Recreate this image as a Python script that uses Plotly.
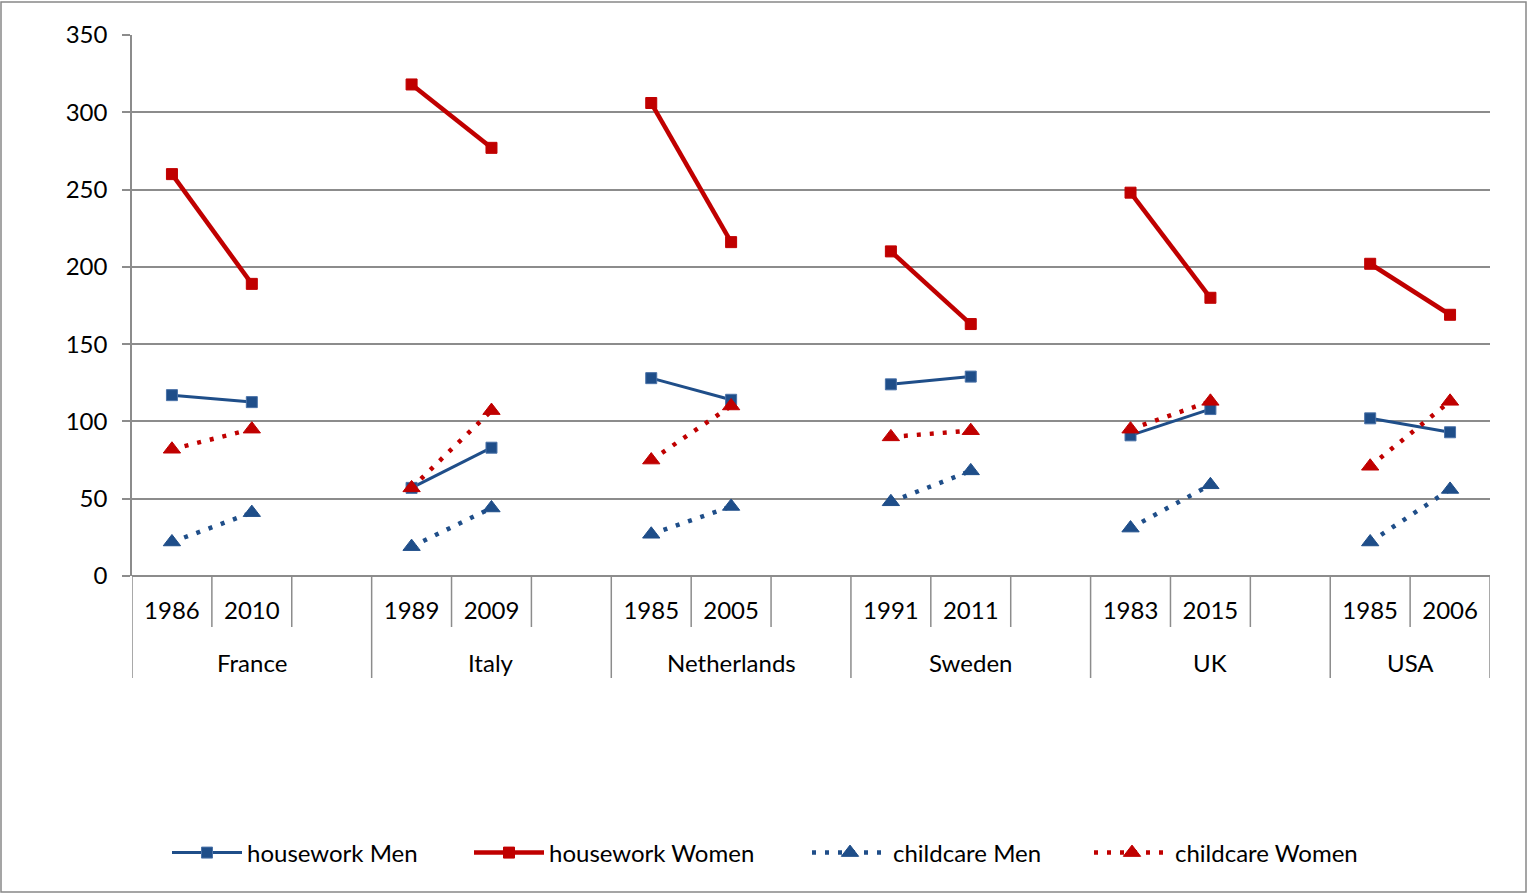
import plotly.graph_objects as go

countries = ["France", "Italy", "Netherlands", "Sweden", "UK", "USA"]
years = [["1986", "2010"], ["1989", "2009"], ["1985", "2005"],
         ["1991", "2011"], ["1983", "2015"], ["1985", "2006"]]

housework_men = [[117, 112.5], [57, 83], [128, 114], [124, 129], [91, 108], [102, 93]]
housework_women = [[260, 189], [318, 277], [306, 216], [210, 163], [248, 180], [202, 169]]
childcare_men = [[22, 41], [19, 44], [27, 45], [48, 68], [31, 59], [22, 56]]
childcare_women = [[82, 95], [57, 107], [75, 110], [90, 94], [95, 113], [71, 113]]

BLUE = "#1F4E89"
RED = "#C00000"
GRID = "#8C8C8C"
FONT = "Lato"
FS = 24

n_slots = 3 * len(countries) - 1


def pos(ci, yi):
    return 3 * ci + yi


def series(vals):
    xs, ys = [], []
    for ci, pair in enumerate(vals):
        for yi, v in enumerate(pair):
            xs.append(pos(ci, yi))
            ys.append(v)
        xs.append(None)
        ys.append(None)
    return xs, ys


fig = go.Figure()
specs = [
    ("housework Men", housework_men, BLUE, "solid", 3, "square", 11, "#4A72A8", "legend", 175, 70),
    ("housework Women", housework_women, RED, "solid", 4.5, "square", 11, RED, "legend2", 477, 70),
    ("childcare Men", childcare_men, BLUE, "4px,9px", 4.5, "triangle-up", 15, BLUE, "legend3", 815, 76),
    ("childcare Women", childcare_women, RED, "4px,9px", 4.5, "triangle-up", 15, RED, "legend4", 1097, 76),
]
legend_layouts = {}
for name, vals, col, dash, lw, sym, ms, mlc, lg, lx, iw in specs:
    xs, ys = series(vals)
    fig.add_trace(go.Scatter(
        x=xs, y=ys, name=name, mode="lines+markers", connectgaps=False,
        line=dict(color=col, width=lw, dash=dash),
        marker=dict(symbol=sym, size=ms, color=col, line=dict(color=mlc, width=1)),
        legend=lg,
    ))
    legend_layouts[lg] = dict(
        orientation="h", xref="container", yref="container",
        x=(lx - 8) / 1528, xanchor="left", y=1 - 853 / 894, yanchor="middle",
        font=dict(family=FONT, size=FS, color="#000000"), itemwidth=iw,
        bgcolor="rgba(0,0,0,0)",
    )

tickvals, ticktext = [], []
for ci, ys_ in enumerate(years):
    for yi, yr in enumerate(ys_):
        tickvals.append(pos(ci, yi))
        ticktext.append(yr)

shapes = []
for ci in range(len(countries)):
    start = 3 * ci - 0.5
    nslot = 3 if ci < len(countries) - 1 else 2
    shapes.append(dict(type="line", xref="x", yref="paper", x0=start, x1=start,
                       y0=0, y1=-102 / 541, line=dict(color=GRID, width=1.5)))
    for k in range(1, nslot):
        shapes.append(dict(type="line", xref="x", yref="paper", x0=start + k, x1=start + k,
                           y0=0, y1=-51 / 541, line=dict(color=GRID, width=1.5)))
shapes.append(dict(type="line", xref="x", yref="paper", x0=n_slots - 0.5, x1=n_slots - 0.5,
                   y0=0, y1=-102 / 541, line=dict(color=GRID, width=1.5)))
shapes.append(dict(type="rect", xref="paper", yref="paper",
                   x0=(1 - 132) / 1358, x1=(1526 - 132) / 1358,
                   y0=(576 - 892) / 541, y1=(576 - 2) / 541,
                   line=dict(color="#888888", width=1.5), layer="below"))

annotations = []
for ci, c in enumerate(countries):
    nslot = 3 if ci < len(countries) - 1 else 2
    center = 3 * ci - 0.5 + nslot / 2
    annotations.append(dict(x=center, y=-86 / 541, xref="x", yref="paper", text=c,
                            showarrow=False, font=dict(family=FONT, size=FS, color="#000000"),
                            xanchor="center", yanchor="middle"))

fig.update_layout(
    width=1528, height=894,
    margin=dict(l=132, r=38, t=35, b=318),
    paper_bgcolor="white", plot_bgcolor="white",
    font=dict(family=FONT, size=FS, color="#000000"),
    showlegend=True,
    shapes=shapes,
    annotations=annotations,
    **legend_layouts,
)
fig.update_xaxes(
    range=[-0.5, n_slots - 0.5], tickmode="array", tickvals=tickvals, ticktext=ticktext,
    showgrid=False, zeroline=False, showline=False, ticks="",
    ticklabelstandoff=18, tickfont=dict(family=FONT, size=FS, color="#000000"),
)
fig.update_yaxes(
    range=[0, 350], dtick=50, showgrid=True, gridcolor=GRID, gridwidth=1.5,
    zeroline=True, zerolinecolor=GRID, zerolinewidth=1.5,
    showline=True, linecolor=GRID, linewidth=1.5,
    ticks="outside", ticklen=8, tickcolor=GRID, tickwidth=1.5,
    tickfont=dict(family=FONT, size=FS, color="#000000"), ticklabelstandoff=10,
)

fig.write_html("out.html", config={"displayModeBar": False},
               post_script="document.body.style.margin='0';")
